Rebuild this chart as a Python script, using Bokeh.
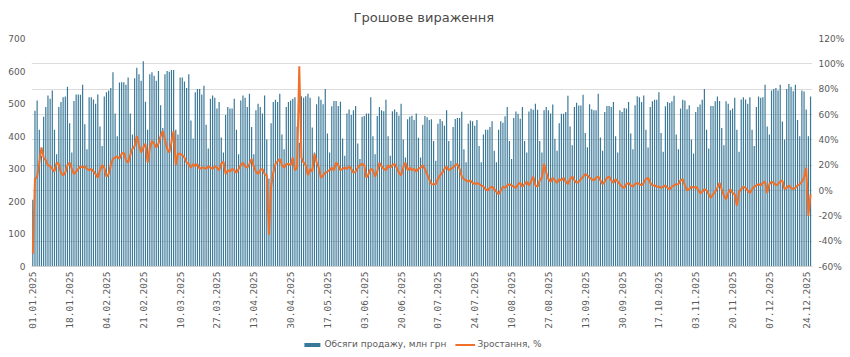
import math
import pandas as pd
from bokeh.plotting import figure
from bokeh.layouts import column
from bokeh.models import (Range1d, LinearAxis, FixedTicker, SingleIntervalTicker,
                          Legend, LegendItem, ColumnDataSource, CustomJSTickFormatter,
                          Label)
from bokeh.embed import file_html
from bokeh.resources import INLINE

# ---------------- data (daily, 01.01.2025 onward) ----------------
sales = [
    205, 478, 510, 420, 340,
    460, 490, 525, 515, 540, 420, 345,
    490, 505, 520, 522, 552, 440, 350,
    508, 528, 528, 527, 558, 437, 360,
    520, 520, 513, 500, 528, 430, 370,
    522, 535, 540, 548, 596, 470, 400,
    565, 566, 566, 558, 580, 470, 405,
    578, 610, 590, 570, 630, 506, 420,
    590, 596, 586, 570, 600, 495, 425,
    590, 600, 598, 603, 603, 420, 405,
    580, 580, 568, 548, 590, 448, 393,
    535, 545, 545, 528, 555, 435, 362,
    515, 525, 518, 485, 505, 396, 350,
    465, 490, 485, 485, 515, 420, 345,
    510, 525, 518, 490, 530, 428, 345,
    480, 500, 490, 470, 525, 390, 270,
    440, 505, 512, 505, 530, 405, 360,
    490, 505, 510, 515, 520, 430, 380,
    523, 518, 523, 530, 518, 427, 350,
    498, 522, 512, 498, 545, 408, 350,
    492, 508, 508, 493, 506, 393, 340,
    470, 482, 465, 480, 493, 378, 330,
    460, 462, 470, 470, 520, 400, 345,
    462, 490, 480, 477, 512, 400, 340,
    477, 482, 474, 463, 500, 390, 335,
    452, 460, 463, 450, 470, 395, 335,
    435, 462, 458, 450, 452, 385, 325,
    438, 453, 446, 432, 480, 385, 325,
    428, 453, 456, 456, 475, 360, 320,
    438, 448, 446, 432, 450, 370, 320,
    405, 420, 420, 428, 446, 355, 320,
    420, 446, 441, 461, 490, 385, 330,
    456, 476, 469, 454, 490, 385, 350,
    476, 484, 481, 500, 481, 385, 350,
    480, 490, 480, 470, 497, 392, 355,
    440, 469, 469, 474, 524, 430, 372,
    490, 503, 494, 494, 527, 410, 366,
    498, 483, 480, 480, 530, 396, 355,
    474, 493, 493, 490, 505, 400, 350,
    480, 474, 487, 485, 505, 408, 360,
    495, 523, 520, 505, 525, 420, 365,
    490, 507, 512, 512, 535, 410, 352,
    492, 505, 502, 507, 524, 405, 360,
    485, 512, 510, 483, 495, 390, 347,
    474, 490, 497, 512, 545, 420, 362,
    493, 493, 507, 522, 508, 425, 372,
    507, 500, 480, 485, 518, 420, 352,
    513, 520, 513, 500, 520, 420, 370,
    490, 522, 518, 520, 558, 430, 405,
    540, 545, 548, 540, 558, 445, 390,
    545, 560, 552, 538, 558, 450, 400,
    540, 537, 482, 400, 522,
]

growth = [
    -50, 9, 11, 22, 34, 26, 24, 20, 19, 17, 15, 22, 21, 14, 12, 14, 20, 22, 17, 13,
    15, 17, 19, 18, 19, 17, 16, 17, 15, 13, 10, 16, 20, 18, 11, 13, 20, 25, 26, 27,
    25, 29, 30, 24, 22, 28, 33, 35, 43, 36, 30, 34, 37, 22, 33, 39, 37, 34, 37, 43,
    47, 40, 33, 30, 38, 47, 20, 29, 29, 28, 26, 22, 21, 18, 21, 19, 21, 17, 18, 18,
    17, 19, 18, 17, 19, 18, 16, 21, 23, 13, 16, 15, 17, 16, 14, 17, 20, 22, 19, 18,
    21, 25, 19, 15, 13, 16, 17, 13, 12, -35, 3, 14, 21, 23, 25, 20, 18, 21, 21, 20,
    26, 16, 18, 98, 26, 22, 20, 12, 17, 15, 29, 22, 18, 10, 12, 14, 15, 16, 18, 16,
    22, 20, 16, 17, 18, 17, 19, 17, 14, 15, 18, 20, 21, 20, 10, 13, 17, 16, 11, 15,
    22, 19, 17, 16, 20, 18, 20, 21, 18, 14, 12, 18, 22, 16, 18, 16, 17, 15, 17, 18,
    20, 17, 13, 9, 5, 5, 5, 9, 12, 14, 17, 19, 16, 17, 18, 20, 21, 17, 11, 9,
    8, 7, 8, 6, 5, 6, 5, 4, 3, 1, 0, 2, 3, 1, -1, -3, 0, 3, 2, 4,
    5, 4, 3, 2, 5, 6, 3, 5, 7, 4, 7, 11, 4, 3, 8, 10, 21, 14, 9, 7,
    10, 8, 6, 9, 8, 10, 7, 5, 9, 11, 8, 6, 7, 9, 11, 13, 12, 10, 9, 8,
    10, 11, 8, 5, 7, 10, 11, 8, 6, 9, 7, 5, 3, 2, 5, 6, 4, 3, 5, 6,
    5, 4, 6, 9, 10, 6, 4, 4, 3, 3, 2, 3, 4, 2, 1, 3, 4, 5, 5, 8,
    9, 4, 0, 1, 3, 2, 3, 1, -2, -1, 1, 0, -3, -6, -3, -1, 2, 6, 1, -4,
    -7, -2, 1, -2, -3, -12, -1, 1, 3, 2, 0, -2, 1, 3, 4, 5, 4, 6, 7, -2,
    5, 7, 6, 4, 5, 7, 8, 1, 2, 4, 2, 1, 2, 4, 5, 7, 10, 18, -20, -3,
]

tick_labels = ["01.01.2025", "18.01.2025", "04.02.2025", "21.02.2025", "10.03.2025",
               "27.03.2025", "13.04.2025", "30.04.2025", "17.05.2025", "03.06.2025",
               "20.06.2025", "07.07.2025", "24.07.2025", "10.08.2025", "27.08.2025",
               "13.09.2025", "30.09.2025", "17.10.2025", "03.11.2025", "20.11.2025",
               "07.12.2025", "24.12.2025"]

title_text = "Грошове вираження"
sales_name = "Обсяги продажу, млн грн"
growth_name = "Зростання, %"

BAR_COLOR = "#3a7898"
LINE_COLOR = "#f0702a"
GREY = "#5a5a5a"

n = len(sales)
dates = pd.date_range("2025-01-01", periods=n, freq="D").strftime("%d.%m.%Y").tolist()
xs = list(range(n))
src = ColumnDataSource(dict(x=xs, sales=sales, growth=growth[:n], date=dates))
tick_pos = [dates.index(t) for t in tick_labels]

# ---------------- title strip ----------------
TITLE_H = 30
tt = figure(width=850, height=TITLE_H, output_backend="svg", toolbar_location=None,
            x_axis_location=None, y_axis_location=None,
            x_range=Range1d(0, 850), y_range=Range1d(0, TITLE_H), min_border=0)
tt.outline_line_color = None
tt.grid.visible = False
tt.add_layout(Label(x=427, y=TITLE_H - 17, text=title_text, text_align="center",
                    text_baseline="middle", text_font="DejaVu Sans",
                    text_font_size="13px", text_color="#4a4a4a"))

# ---------------- main chart ----------------
p = figure(width=850, height=331 - TITLE_H, output_backend="svg", toolbar_location=None,
           x_range=Range1d(-0.6, n - 0.1), y_range=Range1d(-60, 120),
           y_axis_location="right",
           min_border_left=31, min_border_right=38, min_border_top=38 - TITLE_H,
           min_border_bottom=60)
p.extra_y_ranges = {"sales": Range1d(0, 700)}
p.outline_line_color = None

bars = p.vbar(x="x", top="sales", width=0.55, source=src, y_range_name="sales",
              fill_color=BAR_COLOR, line_color=None)
line = p.line(x="x", y="growth", source=src, line_color=LINE_COLOR, line_width=2)

ra = p.yaxis[0]
ra.ticker = SingleIntervalTicker(interval=20)
ra.formatter = CustomJSTickFormatter(code="return tick + '%';")

la = LinearAxis(y_range_name="sales", ticker=SingleIntervalTicker(interval=100))
p.add_layout(la, "left")

for ax in (ra, la):
    ax.axis_line_color = None
    ax.major_tick_line_color = None
    ax.minor_tick_line_color = None
    ax.major_tick_out = 0
    ax.minor_tick_out = 0
    ax.major_label_text_font = "DejaVu Sans"
    ax.major_label_text_font_size = "9px"
    ax.major_label_text_color = GREY
    ax.major_label_standoff = 6

xa = p.xaxis[0]
xa.ticker = FixedTicker(ticks=tick_pos)
xa.major_label_overrides = {pos: lab for pos, lab in zip(tick_pos, tick_labels)}
xa.major_label_orientation = math.pi / 2
xa.major_label_text_font = "DejaVu Sans Mono"
xa.major_label_text_font_size = "9.5px"
xa.major_label_text_color = GREY
xa.major_label_standoff = 5
xa.major_tick_out = 0
xa.minor_tick_out = 0
xa.axis_line_color = "#d0d0d0"
xa.major_tick_line_color = None
xa.minor_tick_line_color = None

p.xgrid.visible = False
p.ygrid.grid_line_color = "#dcdcdc"
p.ygrid.grid_line_width = 1

# ---------------- legend strip (same series, nothing in view) ----------------
lg = figure(width=850, height=26, output_backend="svg", toolbar_location=None,
            x_axis_location=None, y_axis_location=None,
            x_range=Range1d(-0.6, n - 0.1), y_range=Range1d(1000, 1001),
            min_border=0)
lg.outline_line_color = None
lg.grid.visible = False
lb = lg.vbar(x="x", top="sales", width=0.55, source=src,
             fill_color=BAR_COLOR, line_color=None)
ll = lg.line(x="x", y="growth", source=src, line_color=LINE_COLOR, line_width=2)
legend = Legend(items=[LegendItem(label=sales_name, renderers=[lb]),
                       LegendItem(label=growth_name, renderers=[ll])],
                orientation="horizontal", location="center",
                border_line_color=None, background_fill_alpha=0,
                label_text_font="DejaVu Sans", label_text_font_size="9px",
                label_text_color=GREY, glyph_width=20, glyph_height=5,
                label_height=12, label_standoff=3, spacing=8,
                padding=2, margin=0)
lg.add_layout(legend, "center")

open("out.html", "w").write(file_html(column(tt, p, lg, spacing=0), INLINE))
